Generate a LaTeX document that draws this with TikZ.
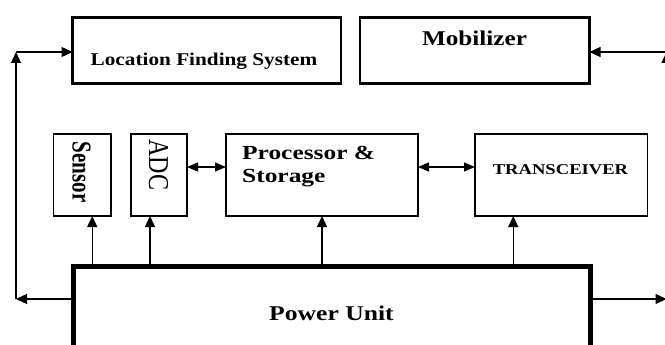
\documentclass[tikz,border=0pt]{standalone}
\usepackage{fontspec}
\setmainfont{Liberation Serif}
\usetikzlibrary{arrows.meta,calc}
% horizontal / vertical stretching of labels
\newcommand\widen[2]{\scalebox{#1}[1]{#2}}
\newcommand\tallen[2]{\scalebox{1}[#1]{#2}}

\begin{document}
\begin{tikzpicture}[x=1pt,y=-1pt,
  bigbox/.style={draw, line width=2.5pt, inner sep=0, outer sep=0, anchor=north west},
  smallbox/.style={draw, line width=1.5pt, inner sep=0, outer sep=0, anchor=north west},
  powerbox/.style={draw, line width=5pt, inner sep=0, outer sep=0, anchor=north west},
  lbl/.style={inner sep=0, outer sep=0, anchor=base},
  arr/.style={-{Triangle[length=11pt,width=10pt]}, line width=1.3pt},
  darr/.style={{Triangle[length=11pt,width=9pt]}-{Triangle[length=11pt,width=9pt]}, line width=1.3pt}]

\useasboundingbox (0,0) rectangle (665,345);
\clip (0,0) rectangle (665,345);

% blocks
\node[bigbox, minimum width=268.5pt, minimum height=66pt] (lfs) at (72.5,17.5) {};
\node[bigbox, minimum width=229.5pt, minimum height=66pt] (mob) at (360,17.5) {};
\node[smallbox, minimum width=57.5pt, minimum height=82pt] (sensor) at (53.5,134) {};
\node[smallbox, minimum width=56pt, minimum height=82pt] (adc) at (131,134) {};
\node[smallbox, minimum width=192pt, minimum height=82pt] (proc) at (226,134) {};
\node[smallbox, minimum width=172.5pt, minimum height=82pt] (trans) at (475,134) {};
\node[powerbox, minimum width=517pt, minimum height=120pt] (pu) at (73,266.5) {};

% labels
\node[lbl, font=\fontsize{18}{18}\selectfont\bfseries] (lfstext) at (204,66) {\widen{1.18}{Location Finding System}};
\node[lbl, font=\fontsize{21}{21}\selectfont\bfseries] (mobtext) at (474.5,46) {\widen{1.2}{Mobilizer}};
\node[inner sep=0, anchor=base west, font=\fontsize{20}{23}\selectfont\bfseries] (proctext) at (242,160)
  {\widen{1.27}{\begin{tabular}[t]{@{}l@{}}Processor \&\\Storage\end{tabular}}};
\node[lbl, font=\fontsize{15}{15}\selectfont\bfseries] (transtext) at (560.5,175) {\widen{1.24}{TRANSCEIVER}};
\node[lbl, font=\fontsize{21}{21}\selectfont\bfseries] (putext) at (331.5,320) {\widen{1.22}{Power Unit}};
\node[inner sep=0, rotate=-90, font=\fontsize{21}{21}\selectfont\bfseries] (sensortext) at (81.5,172) {\tallen{1.3}{Sensor}};
\node[inner sep=0, rotate=-90, font=\fontsize{24}{24}\selectfont] (adctext) at (158.5,165) {\tallen{1.2}{ADC}};

% bus corners on both sides
\coordinate (bl) at (16,299);
\coordinate (tl) at (16,52);
\coordinate (br) at (666.5,299);
\coordinate (tr) at (666.5,52);

\draw[arr] (pu.west |- bl) -- (bl);
\draw[arr] (bl) -- (tl);
\draw[arr] (tl) -- (lfs.west |- tl);
\draw[arr] (pu.east |- br) -- (br);
\draw[arr] (br) -- (tr);
\draw[arr] (tr) -- (mob.east |- tr);

% power feeds
\coordinate (sin) at ($(sensor.south)+(10,0)$);
\coordinate (ain) at ($(adc.south)+(-9,0)$);
\coordinate (pin) at (proc.south);
\coordinate (tin) at ($(trans.south)+(-48,0)$);
\draw[arr] (sin |- pu.north) -- (sin);
\draw[arr] (ain |- pu.north) -- (ain);
\draw[arr] (pin |- pu.north) -- (pin);
\draw[arr] (tin |- pu.north) -- (tin);

% data links
\draw[darr] ([yshift=8pt]adc.east) -- ([yshift=8pt]proc.west);
\draw[darr] ([yshift=8pt]proc.east) -- ([yshift=8pt]trans.west);
\end{tikzpicture}
\end{document}
